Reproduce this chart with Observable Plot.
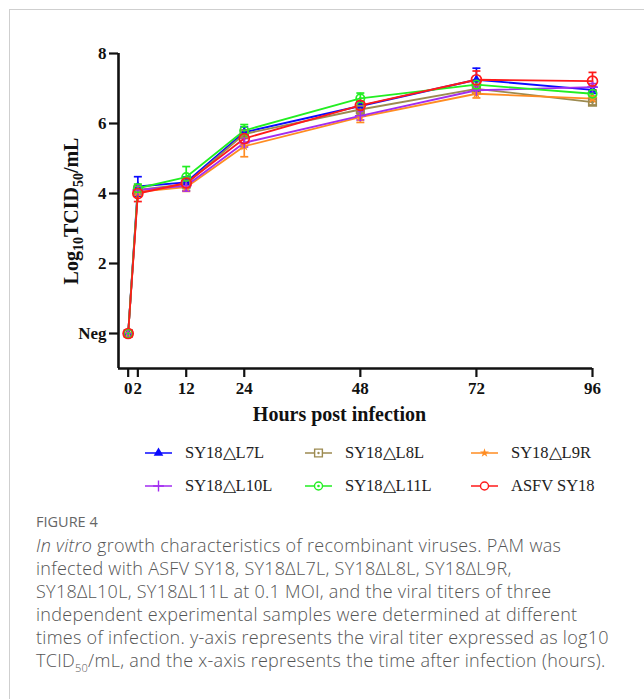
<!DOCTYPE html>
<html><head><meta charset="utf-8">
<script src="https://cdn.jsdelivr.net/npm/d3@7"></script>
<script src="https://cdn.jsdelivr.net/npm/@observablehq/plot@0.6"></script>
<style>
body{margin:0;background:#fff;width:644px;height:699px;overflow:hidden;position:relative}
#frame{position:absolute;left:9px;top:9px;width:800px;height:800px;border-left:1px solid #cfcfcf;border-top:1px solid #cfcfcf}
#chart{position:absolute;left:0;top:0}
.li{position:absolute;display:flex;align-items:center;font-family:"Liberation Serif",serif;font-size:16.5px;color:#222;height:20px}
.li svg{margin-right:13px}
#caption{position:absolute;left:36px;top:512px;width:608px;font-family:"Open Sans",sans-serif;color:#555;white-space:nowrap}
#caption .fig{font-size:14.5px;color:#666;margin-bottom:3px;font-weight:400}
#caption .txt{font-size:18px;line-height:23px;font-weight:300;letter-spacing:0.28px}
</style></head>
<body>
<div id="frame"></div>
<div id="chart"></div>
<div id="legend"></div>
<div id="caption">
<div class="fig">FIGURE 4</div>
<div class="txt"><i>In vitro</i> growth characteristics of recombinant viruses. PAM was<br>infected with ASFV SY18, SY18ΔL7L, SY18ΔL8L, SY18ΔL9R,<br>SY18ΔL10L, SY18ΔL11L at 0.1 MOI, and the viral titers of three<br>independent experimental samples were determined at different<br>times of infection. y-axis represents the viral titer expressed as log10<br>TCID<sub style="font-size:11px;line-height:0">50</sub>/mL, and the x-axis represents the time after infection (hours).</div>
</div>
<script>
const hours = [0, 2, 12, 24, 48, 72, 96];
const seriesNames = ["SY18△L7L", "SY18△L8L", "SY18△L9R", "SY18△L10L", "SY18△L11L", "ASFV SY18"];
const colors = ["#0a0aff", "#9c8a50", "#ff8c22", "#a22cf0", "#22ee22", "#ff1a1a"];
const symbols = ["triangle", "square", "star", "plus", "circle", "circle"];
const L7L  = [0, 4.20, 4.32, 5.75, 6.50, 7.25, 6.96];
const L8L  = [0, 4.10, 4.27, 5.70, 6.40, 6.99, 6.61];
const L9R  = [0, 4.05, 4.18, 5.35, 6.18, 6.85, 6.71];
const L10L = [0, 4.10, 4.22, 5.45, 6.22, 6.95, 7.04];
const L11L = [0, 4.15, 4.47, 5.80, 6.72, 7.11, 6.85];
const SY18 = [0, 4.00, 4.30, 5.57, 6.52, 7.25, 7.21];
const sdL7L  = [0, 0.28, 0.15, 0.15, 0.12, 0.33, 0.10];
const sdL8L  = [0, 0.12, 0.18, 0.12, 0.15, 0.12, 0.08];
const sdL9R  = [0, 0.10, 0.12, 0.30, 0.15, 0.12, 0.08];
const sdL10L = [0, 0.12, 0.15, 0.12, 0.12, 0.10, 0.10];
const sdL11L = [0, 0.12, 0.30, 0.17, 0.15, 0.12, 0.10];
const sdSY18 = [0, 0.23, 0.12, 0.12, 0.12, 0.25, 0.25];
const yTicks = [0, 2, 4, 6, 8];
const yTickLabels = ["Neg", "2", "4", "6", "8"];

const values = [L7L, L8L, L9R, L10L, L11L, SY18];
const sds = [sdL7L, sdL8L, sdL9R, sdL10L, sdL11L, sdSY18];
const rows = [];
seriesNames.forEach((name, i) => hours.forEach((h, j) => rows.push({series: name, idx: i, hour: h, value: values[i][j], sd: sds[i][j]})));

const cap = {draw(ctx) { ctx.moveTo(-4, 0); ctx.lineTo(4, 0); }};
const marks = [];
seriesNames.forEach((name, i) => {
  const d = rows.filter(r => r.idx === i);
  const eb = d.filter(r => r.sd > 0);
  marks.push(Plot.ruleX(eb, {x: "hour", y1: r => r.value - r.sd, y2: r => r.value + r.sd, stroke: colors[i], strokeWidth: 1.7}));
  marks.push(Plot.dot(eb, {x: "hour", y: r => r.value + r.sd, symbol: cap, stroke: colors[i], strokeWidth: 1.7, r: 3}));
  marks.push(Plot.dot(eb, {x: "hour", y: r => r.value - r.sd, symbol: cap, stroke: colors[i], strokeWidth: 1.7, r: 3}));
});
seriesNames.forEach((name, i) => {
  const d = rows.filter(r => r.idx === i);
  marks.push(Plot.line(d, {x: "hour", y: "value", stroke: colors[i], strokeWidth: 1.8}));
});
seriesNames.forEach((name, i) => {
  const d = rows.filter(r => r.idx === i);
  const s = symbols[i];
  if (s === "triangle") marks.push(Plot.dot(d, {x: "hour", y: "value", symbol: "triangle", fill: colors[i], r: 3.6}));
  else if (s === "star") marks.push(Plot.dot(d, {x: "hour", y: "value", symbol: "star", fill: colors[i], r: 3.2}));
  else if (s === "plus") marks.push(Plot.dot(d, {x: "hour", y: "value", symbol: "plus", stroke: colors[i], strokeWidth: 1.6, r: 3.6}));
  else {
    marks.push(Plot.dot(d, {x: "hour", y: "value", symbol: s, stroke: colors[i], fill: "white", fillOpacity: 0, strokeWidth: 1.7, r: i === 5 ? 5 : 4.2}));
    if (i !== 5) marks.push(Plot.dot(d, {x: "hour", y: "value", fill: colors[i], r: 1.3}));
  }
});

const plot = Plot.plot({
  width: 644, height: 435,
  marginLeft: 118, marginRight: 52, marginTop: 53, marginBottom: 67,
  style: {fontFamily: "'Liberation Serif', serif", background: "transparent", color: "#111"},
  x: {domain: [-2, 96]},
  y: {domain: [-1, 8]},
  marks: [
    Plot.axisY({ticks: yTicks, tickFormat: d => yTickLabels[yTicks.indexOf(d)], tickSize: 9, tickPadding: 3, strokeWidth: 2.2, fontSize: 17, fontWeight: "bold", label: null, stroke: "#111", fill: "#111"}),
    Plot.axisX({ticks: hours, tickFormat: d => String(d), tickSize: 9, tickPadding: 4, strokeWidth: 2.2, fontSize: 17, fontWeight: "bold", label: null, stroke: "#111", fill: "#111"}),
    Plot.ruleX([-2], {stroke: "#111", strokeWidth: 2.6}),
    Plot.ruleY([-1], {stroke: "#111", strokeWidth: 2.6}),
    Plot.text(["Hours post infection"], {frameAnchor: "bottom", dy: 52, dx: -16, fontSize: 20, fontWeight: "bold", fill: "#111"}),
    ...marks
  ]
});
document.getElementById("chart").appendChild(plot);

// y axis title with subscripts
const svg = d3.select(plot);
const yt = svg.append("text")
  .attr("transform", "translate(78,211) rotate(-90)")
  .attr("text-anchor", "middle")
  .attr("font-family", "'Liberation Serif', serif")
  .attr("font-weight", "bold").attr("font-size", 20).attr("fill", "#111");
yt.append("tspan").text("Log");
yt.append("tspan").attr("font-size", 14).attr("dy", 5).text("10");
yt.append("tspan").attr("dy", -5).text("TCID");
yt.append("tspan").attr("font-size", 14).attr("dy", 5).text("50");
yt.append("tspan").attr("dy", -5).text("/mL");

// legend
const legendPos = [[145, 453], [305, 453], [471, 453], [145, 486], [305, 486], [471, 486]];
const legend = d3.select("#legend");
seriesNames.forEach((name, i) => {
  const item = legend.append("div").attr("class", "li")
    .style("left", legendPos[i][0] + "px").style("top", (legendPos[i][1] - 10) + "px");
  const s = item.append("svg").attr("width", 27).attr("height", 14);
  s.append("line").attr("x1", 0).attr("x2", 27).attr("y1", 7).attr("y2", 7).attr("stroke", colors[i]).attr("stroke-width", 1.5);
  const g = s.append("g").attr("transform", "translate(13.5,7)");
  const sym = symbols[i];
  if (sym === "triangle") g.append("path").attr("d", d3.symbol(d3.symbolTriangle, 40)()).attr("fill", colors[i]);
  else if (sym === "star") g.append("path").attr("d", d3.symbol(d3.symbolStar, 25)()).attr("fill", colors[i]);
  else if (sym === "plus") g.append("path").attr("d", d3.symbol(d3.symbolPlus, 40)()).attr("stroke", colors[i]).attr("stroke-width", 1.4).attr("fill", "none");
  else if (sym === "square") { g.append("path").attr("d", d3.symbol(d3.symbolSquare, 60)()).attr("stroke", colors[i]).attr("stroke-width", 1.4).attr("fill", "white"); g.append("circle").attr("r", 1.2).attr("fill", colors[i]); }
  else { g.append("circle").attr("r", 4).attr("stroke", colors[i]).attr("stroke-width", 1.4).attr("fill", "white"); if (i !== 5) g.append("circle").attr("r", 1.3).attr("fill", colors[i]); }
  item.append("span").text(name);
});
</script>
</body></html>
